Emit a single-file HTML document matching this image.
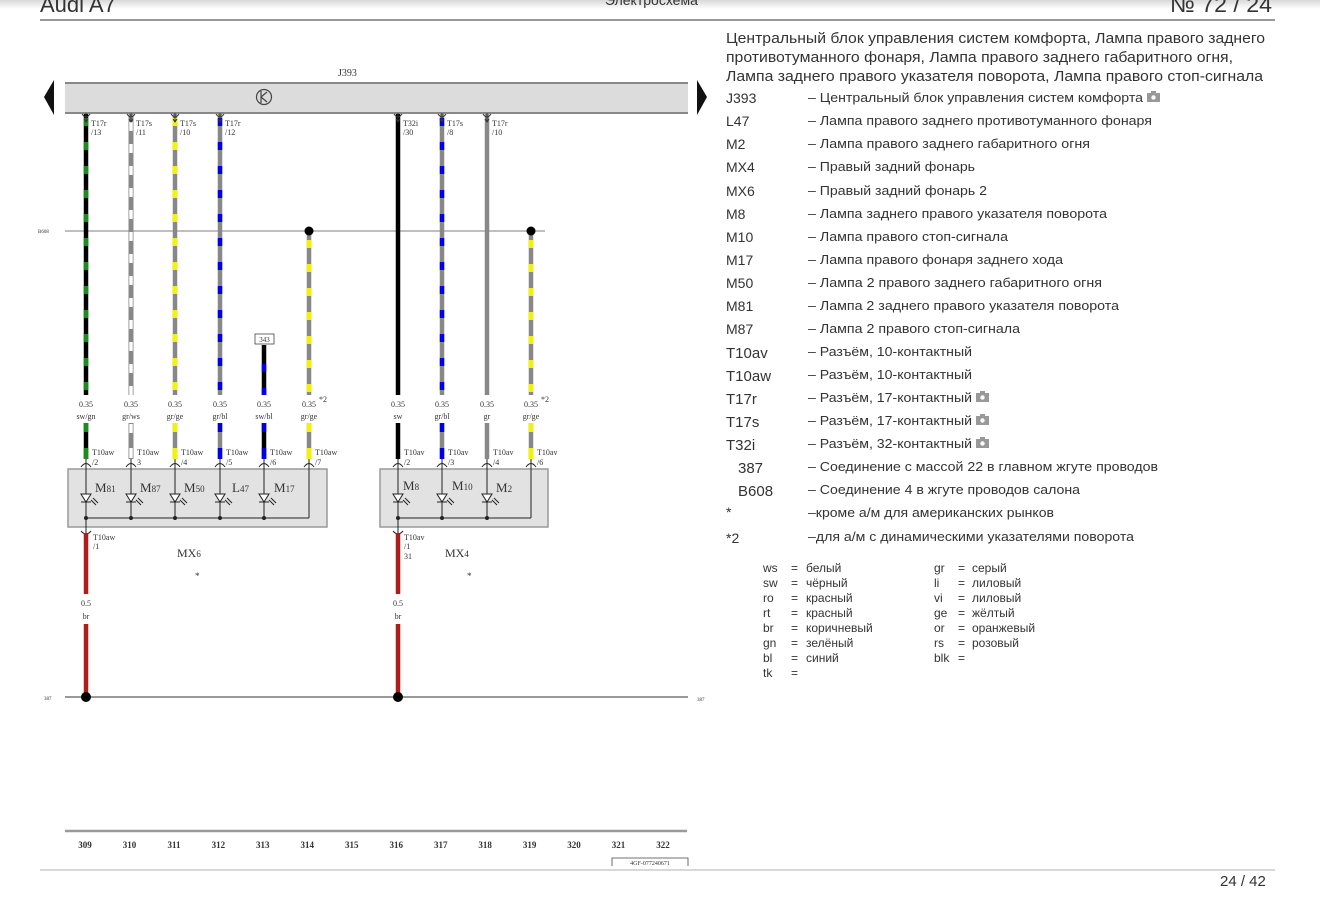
<!DOCTYPE html>
<html><head><meta charset="utf-8"><style>
html,body{margin:0;padding:0;background:#fff;}
svg{display:block;}
.s{font-family:"Liberation Serif",serif;fill:#333;}
.a{font-family:"Liberation Sans",sans-serif;fill:#333;}
</style></head><body>
<svg width="1320" height="899" viewBox="0 0 1320 899" xmlns="http://www.w3.org/2000/svg">
<defs>
<linearGradient id="tg" x1="0" y1="0" x2="0" y2="1"><stop offset="0" stop-color="#d8d8d8"/><stop offset="1" stop-color="#fff"/></linearGradient>
</defs>
<rect width="1320" height="899" fill="#fff"/>
<rect width="1320" height="9" fill="url(#tg)"/>
<!-- header -->
<text x="40" y="12" class="a" font-size="22" fill="#333">Audi A7</text>
<text x="605" y="5" class="a" font-size="14" fill="#444">Электросхема</text>
<text x="1170" y="12" class="a" font-size="22" fill="#333" textLength="102" lengthAdjust="spacingAndGlyphs">№ 72 / 24</text>
<line x1="40" y1="20" x2="1275" y2="20" stroke="#999" stroke-width="2"/>

<!-- J393 bar -->
<text x="338" y="76" class="s" font-size="10">J393</text>
<rect x="65" y="83" width="623" height="30" fill="#dcdcdc"/>
<line x1="65" y1="83" x2="688" y2="83" stroke="#888" stroke-width="2"/>
<line x1="65" y1="113" x2="688" y2="113" stroke="#888" stroke-width="2"/>
<polygon points="44,97 54,80 54,115" fill="#111"/>
<polygon points="707,97 697,80 697,115" fill="#111"/>
<circle cx="264" cy="97" r="7.5" fill="none" stroke="#444" stroke-width="1.2"/>
<path d="M261 91 L261 103 M261 97 L267 92 M261 97 L267 102" stroke="#444" stroke-width="1.2" fill="none"/>

<!-- B608 line -->
<line x1="65" y1="231" x2="545" y2="231" stroke="#aaa" stroke-width="1.5"/>
<text x="38" y="233" class="s" font-size="5">B608</text>

<!-- wires upper segments -->
<g stroke-width="4.5" fill="none">
<line x1="86" y1="114" x2="86" y2="395" stroke="#000"/>
<line x1="86" y1="118" x2="86" y2="395" stroke="#1c8c1c" stroke-dasharray="8 16"/>
<line x1="131" y1="114" x2="131" y2="395" stroke="#888" stroke-width="5"/>
<line x1="131" y1="122" x2="131" y2="395" stroke="#fff" stroke-width="3.4" stroke-dasharray="9 13"/>
<line x1="175" y1="114" x2="175" y2="395" stroke="#888"/>
<line x1="175" y1="118" x2="175" y2="395" stroke="#f4f400" stroke-dasharray="8 16"/>
<line x1="220" y1="114" x2="220" y2="395" stroke="#888"/>
<line x1="220" y1="118" x2="220" y2="395" stroke="#0000e6" stroke-dasharray="8 16"/>
<line x1="264" y1="345" x2="264" y2="395" stroke="#000"/>
<line x1="264" y1="364" x2="264" y2="395" stroke="#0000e6" stroke-dasharray="8 16"/>
<line x1="309" y1="231" x2="309" y2="395" stroke="#888"/>
<line x1="309" y1="240" x2="309" y2="395" stroke="#f4f400" stroke-dasharray="8 16"/>
<line x1="398" y1="114" x2="398" y2="395" stroke="#000"/>
<line x1="442" y1="114" x2="442" y2="395" stroke="#888"/>
<line x1="442" y1="118" x2="442" y2="395" stroke="#0000e6" stroke-dasharray="8 16"/>
<line x1="487" y1="114" x2="487" y2="395" stroke="#888"/>
<line x1="531" y1="231" x2="531" y2="395" stroke="#888"/>
<line x1="531" y1="240" x2="531" y2="395" stroke="#f4f400" stroke-dasharray="8 16"/>
</g>
<circle cx="309" cy="231" r="4.5" fill="#000"/>
<circle cx="531" cy="231" r="4.5" fill="#000"/>
<rect x="255" y="334" width="19" height="10" fill="#fff" stroke="#444" stroke-width="0.8"/>
<text x="264.5" y="342" class="s" font-size="7" text-anchor="middle">343</text>

<!-- top connector symbols & labels -->
<g stroke="#333" stroke-width="1" fill="none">
<path d="M82 114 q4 6 8 0 M86 113 v9 M84 119 l2 3 l2 -3"/>
<path d="M127 114 q4 6 8 0 M131 113 v9 M129 119 l2 3 l2 -3"/>
<path d="M171 114 q4 6 8 0 M175 113 v9 M173 119 l2 3 l2 -3"/>
<path d="M216 114 q4 6 8 0 M220 113 v9 M218 119 l2 3 l2 -3"/>
<path d="M394 114 q4 6 8 0 M398 113 v9 M396 119 l2 3 l2 -3"/>
<path d="M438 114 q4 6 8 0 M442 113 v9 M440 119 l2 3 l2 -3"/>
<path d="M483 114 q4 6 8 0 M487 113 v9 M485 119 l2 3 l2 -3"/>
</g>
<g class="s" font-size="8">
<text x="91" y="126">T17r</text><text x="91" y="135">/13</text>
<text x="136" y="126">T17s</text><text x="136" y="135">/11</text>
<text x="180" y="126">T17s</text><text x="180" y="135">/10</text>
<text x="225" y="126">T17r</text><text x="225" y="135">/12</text>
<text x="403" y="126">T32i</text><text x="403" y="135">/30</text>
<text x="447" y="126">T17s</text><text x="447" y="135">/8</text>
<text x="492" y="126">T17r</text><text x="492" y="135">/10</text>
</g>

<!-- mid labels -->
<g class="s" font-size="8" text-anchor="middle">
<text x="86" y="407">0.35</text><text x="86" y="419">sw/gn</text>
<text x="131" y="407">0.35</text><text x="131" y="419">gr/ws</text>
<text x="175" y="407">0.35</text><text x="175" y="419">gr/ge</text>
<text x="220" y="407">0.35</text><text x="220" y="419">gr/bl</text>
<text x="264" y="407">0.35</text><text x="264" y="419">sw/bl</text>
<text x="309" y="407">0.35</text><text x="309" y="419">gr/ge</text>
<text x="398" y="407">0.35</text><text x="398" y="419">sw</text>
<text x="442" y="407">0.35</text><text x="442" y="419">gr/bl</text>
<text x="487" y="407">0.35</text><text x="487" y="419">gr</text>
<text x="531" y="407">0.35</text><text x="531" y="419">gr/ge</text>
</g>
<text x="319" y="402" class="s" font-size="8">*2</text>
<text x="541" y="402" class="s" font-size="8">*2</text>

<!-- lower segments -->
<g stroke-width="4.5" fill="none">
<line x1="86" y1="423" x2="86" y2="459" stroke="#000"/>
<line x1="86" y1="423" x2="86" y2="432" stroke="#1c8c1c"/><line x1="86" y1="448" x2="86" y2="459" stroke="#1c8c1c"/>
<line x1="131" y1="423" x2="131" y2="459" stroke="#888" stroke-width="5"/>
<line x1="131" y1="424" x2="131" y2="433" stroke="#fff" stroke-width="3.4"/><line x1="131" y1="448" x2="131" y2="458" stroke="#fff" stroke-width="3.4"/>
<line x1="175" y1="423" x2="175" y2="459" stroke="#888"/>
<line x1="175" y1="423" x2="175" y2="432" stroke="#f4f400"/><line x1="175" y1="448" x2="175" y2="459" stroke="#f4f400"/>
<line x1="220" y1="423" x2="220" y2="459" stroke="#888"/>
<line x1="220" y1="423" x2="220" y2="432" stroke="#0000e6"/><line x1="220" y1="448" x2="220" y2="459" stroke="#0000e6"/>
<line x1="264" y1="423" x2="264" y2="459" stroke="#000"/>
<line x1="264" y1="423" x2="264" y2="432" stroke="#0000e6"/><line x1="264" y1="448" x2="264" y2="459" stroke="#0000e6"/>
<line x1="309" y1="423" x2="309" y2="459" stroke="#888"/>
<line x1="309" y1="423" x2="309" y2="432" stroke="#f4f400"/><line x1="309" y1="448" x2="309" y2="459" stroke="#f4f400"/>
<line x1="398" y1="423" x2="398" y2="459" stroke="#000"/>
<line x1="442" y1="423" x2="442" y2="459" stroke="#888"/>
<line x1="442" y1="423" x2="442" y2="432" stroke="#0000e6"/><line x1="442" y1="448" x2="442" y2="459" stroke="#0000e6"/>
<line x1="487" y1="423" x2="487" y2="459" stroke="#888"/>
<line x1="531" y1="423" x2="531" y2="459" stroke="#888"/>
<line x1="531" y1="423" x2="531" y2="432" stroke="#f4f400"/><line x1="531" y1="448" x2="531" y2="459" stroke="#f4f400"/>
</g>
<g class="s" font-size="8">
<text x="92" y="455">T10aw</text><text x="92" y="465">/2</text>
<text x="137" y="455">T10aw</text><text x="137" y="465">3</text>
<text x="181" y="455">T10aw</text><text x="181" y="465">/4</text>
<text x="226" y="455">T10aw</text><text x="226" y="465">/5</text>
<text x="270" y="455">T10aw</text><text x="270" y="465">/6</text>
<text x="315" y="455">T10aw</text><text x="315" y="465">/7</text>
<text x="404" y="455">T10av</text><text x="404" y="465">/2</text>
<text x="448" y="455">T10av</text><text x="448" y="465">/3</text>
<text x="493" y="455">T10av</text><text x="493" y="465">/4</text>
<text x="537" y="455">T10av</text><text x="537" y="465">/6</text>
</g>

<!-- boxes -->
<rect x="68" y="469" width="259" height="58" fill="#e2e2e2" stroke="#999" stroke-width="1.5"/>
<rect x="380" y="469" width="168" height="58" fill="#e2e2e2" stroke="#999" stroke-width="1.5"/>
<g stroke="#222" stroke-width="1" fill="none">
<line x1="86" y1="459" x2="86" y2="535"/>
<line x1="131" y1="459" x2="131" y2="518"/>
<line x1="175" y1="459" x2="175" y2="518"/>
<line x1="220" y1="459" x2="220" y2="518"/>
<line x1="264" y1="459" x2="264" y2="518"/>
<line x1="309" y1="459" x2="309" y2="518"/>
<line x1="86" y1="518" x2="309" y2="518"/>
<line x1="398" y1="459" x2="398" y2="535"/>
<line x1="442" y1="459" x2="442" y2="518"/>
<line x1="487" y1="459" x2="487" y2="518"/>
<line x1="531" y1="459" x2="531" y2="518"/>
<line x1="398" y1="518" x2="531" y2="518"/>
<path d="M81 467 q5 -7 10 0"/><path d="M126 467 q5 -7 10 0"/><path d="M170 467 q5 -7 10 0"/><path d="M215 467 q5 -7 10 0"/><path d="M259 467 q5 -7 10 0"/><path d="M304 467 q5 -7 10 0"/>
<path d="M393 467 q5 -7 10 0"/><path d="M437 467 q5 -7 10 0"/><path d="M482 467 q5 -7 10 0"/><path d="M526 467 q5 -7 10 0"/>
<path d="M81 531 q5 6 10 0"/><path d="M393 531 q5 6 10 0"/>
</g>
<g fill="#222">
<circle cx="86" cy="518" r="2"/><circle cx="131" cy="518" r="2"/><circle cx="175" cy="518" r="2"/><circle cx="220" cy="518" r="2"/><circle cx="264" cy="518" r="2"/>
<circle cx="398" cy="518" r="2"/><circle cx="442" cy="518" r="2"/><circle cx="487" cy="518" r="2"/>
</g>
<g stroke="#222" stroke-width="1" fill="#fff">
<g id="led"><polygon points="81,494 91,494 86,502"/><line x1="81" y1="502" x2="91" y2="502"/><path d="M91 500 l5 5 M93 498 l5 5" fill="none"/></g>
<use href="#led" x="45"/><use href="#led" x="89"/><use href="#led" x="134"/><use href="#led" x="178"/>
<use href="#led" x="312"/><use href="#led" x="356"/><use href="#led" x="401"/>
</g>
<g class="s" font-size="13">
<text x="95" y="492">M<tspan font-size="9">81</tspan></text>
<text x="140" y="492">M<tspan font-size="9">87</tspan></text>
<text x="184" y="492">M<tspan font-size="9">50</tspan></text>
<text x="232" y="492">L<tspan font-size="9">47</tspan></text>
<text x="274" y="492">M<tspan font-size="9">17</tspan></text>
<text x="403" y="490">M<tspan font-size="9">8</tspan></text>
<text x="452" y="490">M<tspan font-size="9">10</tspan></text>
<text x="496" y="492">M<tspan font-size="9">2</tspan></text>
</g>

<!-- below boxes -->
<g stroke="#b01c1c" stroke-width="4.5">
<line x1="86" y1="533" x2="86" y2="594"/><line x1="86" y1="624" x2="86" y2="697"/>
<line x1="398" y1="533" x2="398" y2="594"/><line x1="398" y1="624" x2="398" y2="697"/>
</g>
<g class="s" font-size="8">
<text x="93" y="540">T10aw</text><text x="93" y="549">/1</text>
<text x="404" y="540">T10av</text><text x="404" y="549">/1</text><text x="404" y="559">31</text>
</g>
<g class="s" font-size="8" text-anchor="middle">
<text x="86" y="606">0.5</text><text x="86" y="619">br</text>
<text x="398" y="606">0.5</text><text x="398" y="619">br</text>
</g>
<text x="177" y="557" class="s" font-size="12">MX<tspan font-size="9">6</tspan></text>
<text x="445" y="557" class="s" font-size="12">MX<tspan font-size="9">4</tspan></text>
<text x="195" y="579" class="s" font-size="9">*</text>
<text x="467" y="579" class="s" font-size="9">*</text>
<line x1="65" y1="697" x2="688" y2="697" stroke="#999" stroke-width="2"/>
<circle cx="86" cy="697" r="5" fill="#000"/>
<circle cx="398" cy="697" r="5" fill="#000"/>
<text x="44" y="700" class="s" font-size="5">387</text>
<text x="697" y="701" class="s" font-size="5">387</text>

<!-- bottom numbers -->
<line x1="65" y1="831" x2="687" y2="831" stroke="#999" stroke-width="2.5"/>
<g class="s" font-size="9" font-weight="bold" text-anchor="middle" fill="#111">
<text x="85" y="848">309</text><text x="129.5" y="848">310</text><text x="174" y="848">311</text><text x="218.4" y="848">312</text><text x="262.8" y="848">313</text><text x="307.3" y="848">314</text><text x="351.8" y="848">315</text><text x="396.2" y="848">316</text><text x="440.7" y="848">317</text><text x="485.1" y="848">318</text><text x="529.6" y="848">319</text><text x="574" y="848">320</text><text x="618.5" y="848">321</text><text x="663" y="848">322</text>
</g>
<path d="M612 866 V858 H688 V866" stroke="#444" stroke-width="0.8" fill="none"/>
<text x="650" y="865" class="s" font-size="6" text-anchor="middle">4GF-077240671</text>
<line x1="40" y1="870" x2="1275" y2="870" stroke="#ccc" stroke-width="1.5"/>
<text x="1220" y="886" class="a" font-size="15" fill="#333">24 /  42</text>

<!-- right text block -->
<g class="a" font-size="15" fill="#3a3a3a">
<text x="726" y="43" textLength="539" lengthAdjust="spacingAndGlyphs">Центральный блок управления систем комфорта, Лампа правого заднего</text>
<text x="726" y="62" textLength="507" lengthAdjust="spacingAndGlyphs">противотуманного фонаря, Лампа правого заднего габаритного огня,</text>
<text x="726" y="81" textLength="537" lengthAdjust="spacingAndGlyphs">Лампа заднего правого указателя поворота, Лампа правого стоп-сигнала</text>
</g>
<g class="a" font-size="14" fill="#3a3a3a">
<text x="726" y="103">J393</text>
<text x="726" y="126">L47</text>
<text x="726" y="149">M2</text>
<text x="726" y="172">MX4</text>
<text x="726" y="196">MX6</text>
<text x="726" y="219">M8</text>
<text x="726" y="242">M10</text>
<text x="726" y="265">M17</text>
<text x="726" y="288">M50</text>
<text x="726" y="311">M81</text>
<text x="726" y="334">M87</text>
<text x="726" y="358" font-size="15">T10av</text>
<text x="726" y="381" font-size="15">T10aw</text>
<text x="726" y="404" font-size="15">T17r</text>
<text x="726" y="427" font-size="15">T17s</text>
<text x="726" y="450" font-size="15">T32i</text>
<text x="738" y="473" font-size="15">387</text>
<text x="738" y="496" font-size="15">B608</text>
<text x="726" y="517">*</text>
<text x="726" y="543">*2</text>
</g>
<g class="a" font-size="13" fill="#3a3a3a">
<text x="808" y="102" textLength="335" lengthAdjust="spacingAndGlyphs">– Центральный блок управления систем комфорта</text>
<text x="808" y="125" textLength="344" lengthAdjust="spacingAndGlyphs">– Лампа правого заднего противотуманного фонаря</text>
<text x="808" y="148" textLength="282" lengthAdjust="spacingAndGlyphs">– Лампа правого заднего габаритного огня</text>
<text x="808" y="171" textLength="167" lengthAdjust="spacingAndGlyphs">– Правый задний фонарь</text>
<text x="808" y="195" textLength="179" lengthAdjust="spacingAndGlyphs">– Правый задний фонарь 2</text>
<text x="808" y="218" textLength="299" lengthAdjust="spacingAndGlyphs">– Лампа заднего правого указателя поворота</text>
<text x="808" y="241" textLength="200" lengthAdjust="spacingAndGlyphs">– Лампа правого стоп-сигнала</text>
<text x="808" y="264" textLength="255" lengthAdjust="spacingAndGlyphs">– Лампа правого фонаря заднего хода</text>
<text x="808" y="287" textLength="294" lengthAdjust="spacingAndGlyphs">– Лампа 2 правого заднего габаритного огня</text>
<text x="808" y="310" textLength="311" lengthAdjust="spacingAndGlyphs">– Лампа 2 заднего правого указателя поворота</text>
<text x="808" y="333" textLength="212" lengthAdjust="spacingAndGlyphs">– Лампа 2 правого стоп-сигнала</text>
<text x="808" y="356" textLength="164" lengthAdjust="spacingAndGlyphs">– Разъём, 10-контактный</text>
<text x="808" y="379" textLength="164" lengthAdjust="spacingAndGlyphs">– Разъём, 10-контактный</text>
<text x="808" y="402" textLength="164" lengthAdjust="spacingAndGlyphs">– Разъём, 17-контактный</text>
<text x="808" y="425" textLength="164" lengthAdjust="spacingAndGlyphs">– Разъём, 17-контактный</text>
<text x="808" y="448" textLength="164" lengthAdjust="spacingAndGlyphs">– Разъём, 32-контактный</text>
<text x="808" y="471" textLength="350" lengthAdjust="spacingAndGlyphs">– Соединение с массой 22 в главном жгуте проводов</text>
<text x="808" y="494" textLength="272" lengthAdjust="spacingAndGlyphs">– Соединение 4 в жгуте проводов салона</text>
<text x="808" y="517" textLength="246" lengthAdjust="spacingAndGlyphs">–кроме а/м для американских рынков</text>
<text x="808" y="541" textLength="326" lengthAdjust="spacingAndGlyphs">–для а/м с динамическими указателями поворота</text>
</g>
<!-- camera icons -->
<g fill="#999">
<rect x="1147" y="93" width="13" height="9"/><rect x="1151" y="91" width="5" height="3"/>
<rect x="976" y="393" width="13" height="9"/><rect x="980" y="391" width="5" height="3"/>
<rect x="976" y="416" width="13" height="9"/><rect x="980" y="414" width="5" height="3"/>
<rect x="976" y="439" width="13" height="9"/><rect x="980" y="437" width="5" height="3"/>
</g>
<g fill="#fff"><circle cx="1153.5" cy="97.5" r="2.2"/><circle cx="982.5" cy="397.5" r="2.2"/><circle cx="982.5" cy="420.5" r="2.2"/><circle cx="982.5" cy="443.5" r="2.2"/></g>

<!-- color legend -->
<g class="a" font-size="12" fill="#555">
<text x="763" y="572">ws</text><text x="791" y="572">=</text><text x="806" y="572">белый</text>
<text x="763" y="587">sw</text><text x="791" y="587">=</text><text x="806" y="587">чёрный</text>
<text x="763" y="602">ro</text><text x="791" y="602">=</text><text x="806" y="602">красный</text>
<text x="763" y="617">rt</text><text x="791" y="617">=</text><text x="806" y="617">красный</text>
<text x="763" y="632">br</text><text x="791" y="632">=</text><text x="806" y="632">коричневый</text>
<text x="763" y="647">gn</text><text x="791" y="647">=</text><text x="806" y="647">зелёный</text>
<text x="763" y="662">bl</text><text x="791" y="662">=</text><text x="806" y="662">синий</text>
<text x="763" y="677">tk</text><text x="791" y="677">=</text>
<text x="934" y="572">gr</text><text x="958" y="572">=</text><text x="972" y="572">серый</text>
<text x="934" y="587">li</text><text x="958" y="587">=</text><text x="972" y="587">лиловый</text>
<text x="934" y="602">vi</text><text x="958" y="602">=</text><text x="972" y="602">лиловый</text>
<text x="934" y="617">ge</text><text x="958" y="617">=</text><text x="972" y="617">жёлтый</text>
<text x="934" y="632">or</text><text x="958" y="632">=</text><text x="972" y="632">оранжевый</text>
<text x="934" y="647">rs</text><text x="958" y="647">=</text><text x="972" y="647">розовый</text>
<text x="934" y="662">blk</text><text x="958" y="662">=</text>
</g>
</svg>
</body></html>
